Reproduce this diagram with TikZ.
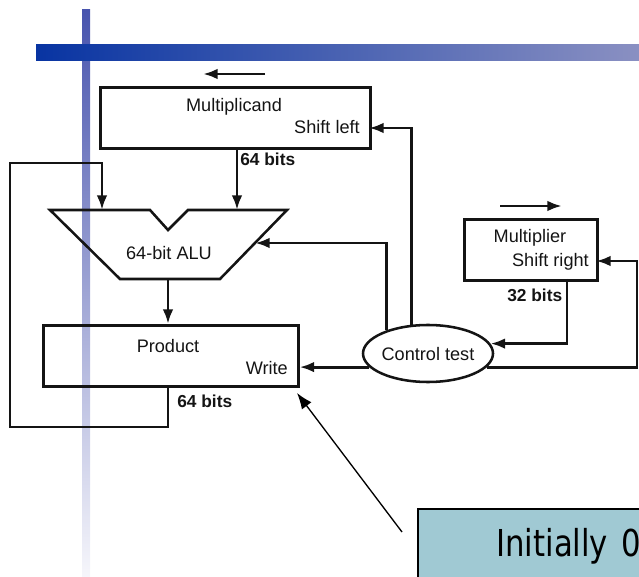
\documentclass[tikz,border=0pt]{standalone}
\usepackage{fontspec}
\setmainfont{Liberation Sans}
\newfontfamily\initfont[FakeStretch=0.83]{DejaVu Sans}
\usetikzlibrary{arrows.meta,shapes.geometric,calc}
\definecolor{vbarTop}{RGB}{72,84,174}
\definecolor{vbarMid}{RGB}{176,182,220}
\definecolor{vbarBot}{RGB}{246,246,251}
\definecolor{hbarL}{RGB}{8,52,162}
\definecolor{hbarR}{RGB}{138,144,194}
\definecolor{noteFill}{RGB}{160,201,211}
\definecolor{ink}{RGB}{20,20,20}
\begin{document}
\begin{tikzpicture}[x=0.75pt,y=-0.75pt,
  box/.style={draw=ink, line width=1.9pt, inner sep=0pt, anchor=north west},
  wire/.style={draw=ink, line width=2.2pt},
  arr/.style={wire, -{Latex[length=11pt,width=8pt]}},
  thinarr/.style={draw=black, line width=1pt, -{Latex[length=12pt,width=9pt]}},
  lbl/.style={font=\fontsize{13.6}{16}\selectfont, inner sep=0pt, text=ink},
  bitlbl/.style={font=\bfseries\fontsize{13}{16}\selectfont, inner sep=0pt, text=ink},
  ctrlshape/.style={draw=ink, line width=1.9pt, ellipse, inner sep=0pt, minimum width=97.5pt, minimum height=42.75pt}
]
\useasboundingbox (0,0) rectangle (639,577);
\clip (0,0) rectangle (639,577);
% decorative bars
\shade[top color=vbarTop, middle color=vbarMid, bottom color=vbarBot] (82,10) rectangle (90,577);
\shade[left color=hbarL, right color=hbarR] (36,45) rectangle (639,61);

% Multiplicand
\node[box, minimum width=202.5pt, minimum height=45.75pt] (mcand) at (99,86) {};
\node[lbl, anchor=base] (tmcand) at (234,112) {Multiplicand};
\node[lbl, anchor=base east] (tsl) at (360,134) {Shift left};
\node[bitlbl, anchor=base west] (b64a) at (240,166) {64 bits};
\coordinate (ma1) at (265,74);
\coordinate (ma2) at (203,74);
\draw[arr] (ma1) -- (ma2);

% ALU
\coordinate (a1) at (50,210);
\coordinate (a2) at (150,210);
\coordinate (a3) at (168,230);
\coordinate (a4) at (188,210);
\coordinate (a5) at (287,210);
\coordinate (a6) at (220,279);
\coordinate (a7) at (120,279);
\draw[draw=ink, line width=1.9pt, line join=miter] (a1) -- (a2) -- (a3) -- (a4) -- (a5) -- (a6) -- (a7) -- cycle;
\node[lbl, anchor=base] (talu) at (169,260) {64-bit ALU};
\coordinate (aluL) at (102,210);
\coordinate (aluR) at (237,210);
\coordinate (aluS) at (255,243);
\coordinate (aluO) at (168,279);

% Product
\node[box, minimum width=191.25pt, minimum height=45.75pt] (prod) at (42,324) {};
\node[lbl, anchor=base] (tprod) at (168,352) {Product};
\node[lbl, anchor=base east] (twrite) at (288,374) {Write};
\node[bitlbl, anchor=base west] (b64b) at (177,407) {64 bits};

% Multiplier
\node[box, minimum width=99.75pt, minimum height=45.75pt] (mplier) at (463,218) {};
\node[lbl, anchor=base] (tmplier) at (530,243) {Multiplier};
\node[lbl, anchor=base east] (tsr) at (589,267) {Shift right};
\node[bitlbl, anchor=base west] (b32) at (507,301) {32 bits};
\coordinate (mp1) at (500,206);
\coordinate (mp2) at (562,206);
\draw[arr] (mp1) -- (mp2);

% Control test
\node[ctrlshape] (ctrl) at (428,353.5) {};
\node[lbl, anchor=base] (tctrl) at (428,360) {Control test};

% ports
\coordinate (mcandIn) at (369,128);
\coordinate (mpIn) at (596,261);
\coordinate (mpOut) at (567,279);
\coordinate (rx) at (637,0);
\coordinate (loopL) at (10,427);
\coordinate (loopT) at (102,163);

% connectors
\draw[arr] (mcand.south -| aluR) -- (aluR);
\draw[arr] (ctrl.120) |- (mcandIn);
\draw[arr] (ctrl.151.7) |- (aluS);
\draw[arr] (mpOut) |- (ctrl.9.9);
\draw[arr] (ctrl.-13.26) -| (rx |- mpIn) -- (mpIn);
\draw[arr] (ctrl.193.26) -- (ctrl.193.26 -| prod.east);
\draw[arr] (aluO) -- (aluO |- prod.north);
\draw[arr, line join=miter] (prod.south -| aluO) |- (loopL) |- (loopT) -- (aluL);

% note
\node[draw=black, line width=1.2pt, fill=noteFill, inner sep=0pt, anchor=north west, minimum width=190pt, minimum height=72pt] (note) at (417,508) {};
\node[anchor=base west, inner sep=0pt, font=\initfont\fontsize{27.8}{30}\selectfont] (tnote) at (496,556) {Initially\kern3pt\ 0};
\coordinate (nstart) at (402,532);
\coordinate (ntip) at (297,393);
\draw[thinarr] (nstart) -- (ntip);
\end{tikzpicture}
\end{document}
